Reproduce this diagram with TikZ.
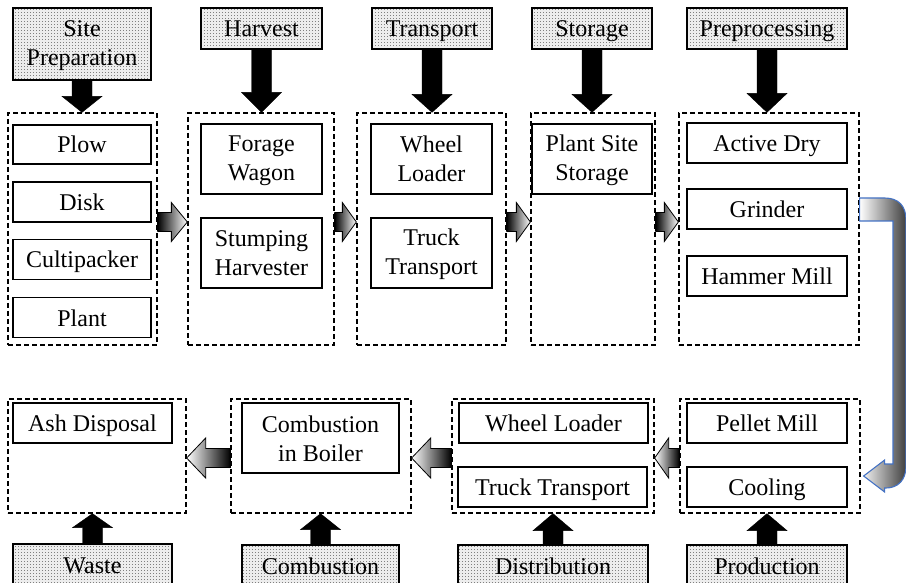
\documentclass[tikz,border=0pt]{standalone}
\usepackage{fontspec}
\setmainfont{Liberation Serif}
\usetikzlibrary{calc,patterns}
\definecolor{ublue}{RGB}{68,114,196}
\pgfdeclarepatternformonly{hdots}{\pgfqpoint{0pt}{0pt}}{\pgfqpoint{1.2pt}{1.2pt}}{\pgfqpoint{3pt}{3pt}}%
  {\pgfpathrectangle{\pgfqpoint{0pt}{0pt}}{\pgfqpoint{1.2pt}{1.2pt}}\pgfusepath{fill}}
\newcommand\blkarrow[6]{%
  \coordinate (tmpH) at ($(#3)!#6!(#2)$);
  \draw[#1] ($(#2)!#4!90:(#3)$) -- ($(tmpH)!#4!90:(#3)$) -- ($(tmpH)!#5!90:(#3)$) -- (#3)
    -- ($(tmpH)!#5!-90:(#3)$) -- ($(tmpH)!#4!-90:(#3)$) -- ($(#2)!#4!-90:(#3)$) -- cycle;}
\newcommand\twoln[2]{\rule{0pt}{19pt}#1\\#2\rule[-2pt]{0pt}{2pt}}
\begin{document}
\begin{tikzpicture}[x=1pt,y=-1pt,
  txt/.style={font=\fontsize{24}{29}\selectfont, align=center, inner sep=0pt},
  one/.style={text height=19pt, text depth=2pt},
  grp/.style={draw, line width=1.3pt, dash pattern=on 5pt off 3pt, inner sep=0pt},
  itm/.style={txt, draw, line width=1.2pt},
  hdr/.style={txt, draw, line width=1.2pt, preaction={fill=black!7}, pattern=hdots, pattern color=black!50},
  blk/.style={draw=black, fill=black},
  gshR/.style={draw=black, line width=0.8pt, left color=black, right color=white},
  gshL/.style={draw=black, line width=0.8pt, left color=white, right color=black},
  uturn/.style={draw=ublue, line width=1.1pt, left color=white, right color=black!75}]
\useasboundingbox (0,0) rectangle (906,583);
\clip (0,0) rectangle (906,583);
\fill[white] (0,0) rectangle (906,583);
% containers
\node[grp, minimum width=149pt, minimum height=232pt] (c1) at (82.5,229) {};
\node[grp, minimum width=146pt, minimum height=232pt] (c2) at (261,229) {};
\node[grp, minimum width=149pt, minimum height=232pt] (c3) at (431.5,229) {};
\node[grp, minimum width=124pt, minimum height=232pt] (c4) at (593,229) {};
\node[grp, minimum width=180pt, minimum height=232pt] (c5) at (769,229) {};
\node[grp, minimum width=178pt, minimum height=114pt] (d1) at (97,456) {};
\node[grp, minimum width=180pt, minimum height=114pt] (d2) at (321,456) {};
\node[grp, minimum width=202pt, minimum height=114pt] (d3) at (553,456) {};
\node[grp, minimum width=180pt, minimum height=114pt] (d4) at (770,456) {};
% items
\node[itm, one, minimum width=138pt, minimum height=39pt] (plow) at (82,144.5) {Plow};
\node[itm, one, minimum width=138pt, minimum height=40pt] (disk) at (82,202) {Disk};
\node[itm, one, minimum width=138pt, minimum height=40pt] (culti) at (82,259.5) {Cultipacker};
\node[itm, one, minimum width=138pt, minimum height=40pt] (plant) at (82,317.5) {Plant};
\node[itm, minimum width=121pt, minimum height=70pt] (forage) at (261.5,159) {\twoln{Forage}{Wagon}};
\node[itm, minimum width=121pt, minimum height=70pt] (stump) at (261.5,253) {\twoln{Stumping}{Harvester}};
\node[itm, minimum width=121pt, minimum height=70pt] (wl1) at (431.5,159) {\twoln{Wheel}{Loader}};
\node[itm, minimum width=121pt, minimum height=70pt] (tt1) at (431.5,253) {\twoln{Truck}{Transport}};
\node[itm, minimum width=120pt, minimum height=70pt] (pss) at (592,159) {\twoln{Plant Site}{Storage}};
\node[itm, one, minimum width=160pt, minimum height=40pt] (adry) at (767,143) {Active Dry};
\node[itm, one, minimum width=160pt, minimum height=40pt] (grind) at (767,209) {Grinder};
\node[itm, one, minimum width=160pt, minimum height=40pt] (hmill) at (767,276) {Hammer Mill};
\node[itm, one, minimum width=159pt, minimum height=40pt] (ash) at (92.5,423) {Ash Disposal};
\node[itm, minimum width=157pt, minimum height=70pt] (cib) at (320.5,438) {\twoln{Combustion}{in Boiler}};
\node[itm, one, minimum width=189pt, minimum height=40pt] (wl2) at (553.5,423) {Wheel Loader};
\node[itm, one, minimum width=189pt, minimum height=40pt] (tt2) at (552.5,487) {Truck Transport};
\node[itm, one, minimum width=160pt, minimum height=40pt] (pmill) at (767,423) {Pellet Mill};
\node[itm, one, minimum width=160pt, minimum height=40pt] (cool) at (767,487) {Cooling};
% headers
\node[hdr, minimum width=138pt, minimum height=72pt] (hsp) at (82,44) {\twoln{Site}{Preparation}};
\node[hdr, one, minimum width=121pt, minimum height=41pt] (hha) at (261.5,28.5) {Harvest};
\node[hdr, one, minimum width=120pt, minimum height=41pt] (htr) at (432,28.5) {Transport};
\node[hdr, one, minimum width=120pt, minimum height=41pt] (hst) at (592,28.5) {Storage};
\node[hdr, one, minimum width=160pt, minimum height=41pt] (hpp) at (767,28.5) {Preprocessing};
\node[hdr, one, minimum width=159pt, minimum height=42pt] (hwa) at (92.5,565) {Waste};
\node[hdr, one, minimum width=157pt, minimum height=42pt] (hco) at (320.5,566) {Combustion};
\node[hdr, one, minimum width=190pt, minimum height=42pt] (hdi) at (553,566) {Distribution};
\node[hdr, one, minimum width=160pt, minimum height=42pt] (hpr) at (767,566) {Production};
% black arrows (top)
\coordinate (t1) at (hsp.south |- c1.north);
\coordinate (t2) at (hha.south |- c2.north);
\coordinate (t3) at (htr.south |- c3.north);
\coordinate (t4) at (hst.south |- c4.north);
\coordinate (t5) at (hpp.south |- c5.north);
\blkarrow{blk}{hsp.south}{t1}{10pt}{20pt}{16pt}
\blkarrow{blk}{hha.south}{t2}{10pt}{20pt}{20pt}
\blkarrow{blk}{htr.south}{t3}{10pt}{20pt}{18pt}
\blkarrow{blk}{hst.south}{t4}{10pt}{20pt}{18pt}
\blkarrow{blk}{hpp.south}{t5}{10pt}{20pt}{19pt}
% black arrows (bottom)
\coordinate (b1) at (hwa.north |- d1.south);
\coordinate (b2) at (hco.north |- d2.south);
\coordinate (b3) at (hdi.north |- d3.south);
\coordinate (b4) at (hpr.north |- d4.south);
\blkarrow{blk}{hwa.north}{b1}{10pt}{20pt}{14pt}
\blkarrow{blk}{hco.north}{b2}{10pt}{20pt}{16pt}
\blkarrow{blk}{hdi.north}{b3}{10pt}{20pt}{17pt}
\blkarrow{blk}{hpr.north}{b4}{10pt}{20pt}{17pt}
% gray arrows top row
\coordinate (yT) at (0,222);
\coordinate (g1s) at (c1.east |- yT); \coordinate (g1t) at (c2.west |- yT);
\coordinate (g2s) at (c2.east |- yT); \coordinate (g2t) at (c3.west |- yT);
\coordinate (g3s) at (c3.east |- yT); \coordinate (g3t) at (c4.west |- yT);
\coordinate (g4s) at (c4.east |- yT); \coordinate (g4t) at (c5.west |- yT);
\blkarrow{gshR}{g1s}{g1t}{9.5pt}{19.5pt}{16pt}
\blkarrow{gshR}{g2s}{g2t}{9.5pt}{19.5pt}{14pt}
\blkarrow{gshR}{g3s}{g3t}{9.5pt}{19.5pt}{14pt}
\blkarrow{gshR}{g4s}{g4t}{9.5pt}{19.5pt}{14pt}
% gray arrows bottom row
\coordinate (yB) at (0,458);
\coordinate (g5s) at (d4.west |- yB); \coordinate (g5t) at (d3.east |- yB);
\coordinate (g6s) at (d3.west |- yB); \coordinate (g6t) at (d2.east |- yB);
\coordinate (g7s) at (d2.west |- yB); \coordinate (g7t) at (d1.east |- yB);
\blkarrow{gshL}{g5s}{g5t}{9.5pt}{20pt}{14pt}
\blkarrow{gshL}{g6s}{g6t}{9.5pt}{20pt}{19pt}
\blkarrow{gshL}{g7s}{g7t}{9.5pt}{20pt}{19pt}
% U-turn arrow from Preprocessing to Production
\coordinate (us) at (c5.east |- grind);
\coordinate (ut) at ($(d4.east)+(3,20)$);
\draw[uturn] ($(us)+(0,-11)$) -- ++(25,0) .. controls ++(14,0) and ++(0,-14) .. (906,220)
  -- (906,466) .. controls (906,480) and (898,488) .. (886,488) -- ($(ut)+(21,12)$)
  -- ($(ut)+(21,16)$) -- (ut) -- ($(ut)+(21,-16)$) -- ($(ut)+(21,-12)$)
  -- (893,464) -- (893,221) -- ($(us)+(0,12)$) -- cycle;
\end{tikzpicture}
\end{document}
